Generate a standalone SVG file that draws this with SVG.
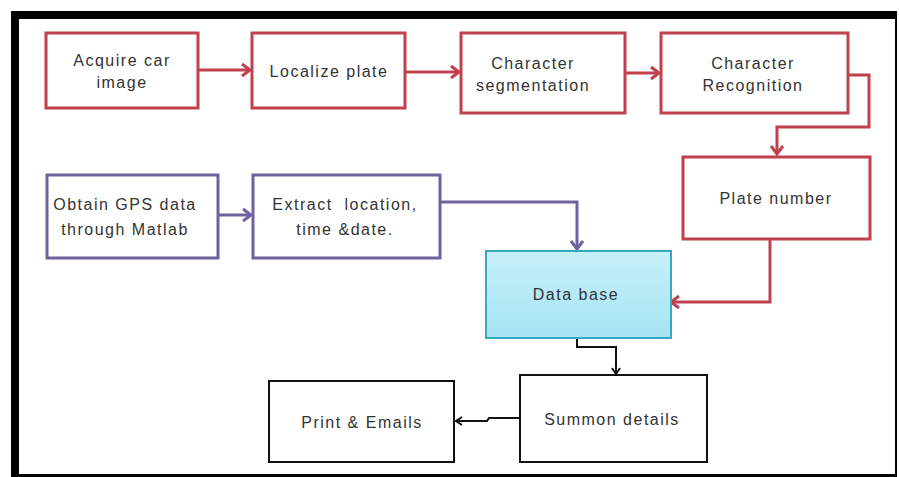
<svg xmlns="http://www.w3.org/2000/svg" width="899" height="477" viewBox="0 0 899 477">
<style>
text{font-family:"Liberation Sans","DejaVu Sans",sans-serif;font-size:16px;letter-spacing:1.5px;fill:#333;text-anchor:middle;white-space:pre}
.red{fill:#fff;stroke:#c0404d;stroke-width:3}
.pur{fill:#fff;stroke:#6e619e;stroke-width:3}
.blk{fill:#fff;stroke:#111;stroke-width:2}
.cr{fill:none;stroke:#c0404d;stroke-width:3}
.cp{fill:none;stroke:#6e619e;stroke-width:3}
.cb{fill:none;stroke:#111;stroke-width:2}
</style>
<defs>
<marker id="ar" markerUnits="userSpaceOnUse" markerWidth="16" markerHeight="16" refX="11" refY="8" orient="auto">
<path d="M3,2 L11,8 L3,14" fill="none" stroke="#c0404d" stroke-width="3"/>
</marker>
<marker id="ap" markerUnits="userSpaceOnUse" markerWidth="16" markerHeight="16" refX="11" refY="8" orient="auto">
<path d="M3,2 L11,8 L3,14" fill="none" stroke="#6e619e" stroke-width="3"/>
</marker>
<marker id="ab" markerUnits="userSpaceOnUse" markerWidth="12" markerHeight="12" refX="9" refY="6" orient="auto">
<path d="M3,2 L9,6 L3,10" fill="none" stroke="#111" stroke-width="2"/>
</marker>
<linearGradient id="db" x1="0" y1="0" x2="0" y2="1">
<stop offset="0" stop-color="#c6f0fa"/>
<stop offset="1" stop-color="#a6e4f4"/>
</linearGradient>
</defs>
<rect x="11" y="11" width="886" height="466" fill="#000"/>
<rect x="19" y="19" width="876" height="455" fill="#fff"/>
<g id="connectors">
<path class="cr" d="M198,70 L250,70" marker-end="url(#ar)"/>
<path class="cr" d="M405,72 L459,72" marker-end="url(#ar)"/>
<path class="cr" d="M625,73 L659,73" marker-end="url(#ar)"/>
<path class="cr" d="M848,75 L869,75 L869,127 L777,127 L777,154" marker-end="url(#ar)"/>
<path class="cr" d="M770,240 L770,302 L671,302" marker-end="url(#ar)"/>
<path class="cp" d="M218,215 L251,215" marker-end="url(#ap)"/>
<path class="cp" d="M440,202 L577,202 L577,249" marker-end="url(#ap)"/>
<path class="cb" d="M577,338 L577,347 L616,347 L616,374" marker-end="url(#ab)"/>
<path class="cb" d="M520,418 L489,418 L487,421 L456,421" marker-end="url(#ab)"/>
</g>
<g id="acquire"><rect class="red" x="46" y="33" width="152" height="75"/><text x="122" y="66">Acquire car</text><text x="122" y="88">image</text></g>
<g id="localize"><rect class="red" x="252" y="33" width="153" height="75"/><text x="329" y="77">Localize plate</text></g>
<g id="segmentation"><rect class="red" x="461" y="33" width="164" height="80"/><text x="533" y="69">Character</text><text x="533" y="91">segmentation</text></g>
<g id="recognition"><rect class="red" x="661" y="33" width="187" height="80"/><text x="753" y="69">Character</text><text x="753" y="91">Recognition</text></g>
<g id="platenumber"><rect class="red" x="683" y="157" width="187" height="82"/><text x="776" y="204">Plate number</text></g>
<g id="gps"><rect class="pur" x="47" y="175" width="171" height="83"/><text x="125" y="210">Obtain GPS data</text><text x="125" y="235">through Matlab</text></g>
<g id="extract"><rect class="pur" x="253" y="175" width="187" height="83"/><text x="345" y="210">Extract  location,</text><text x="345" y="235">time &amp;date.</text></g>
<g id="database"><rect x="486" y="251" width="185" height="87" fill="url(#db)" stroke="#3aa7c0" stroke-width="2"/><text x="576" y="300">Data base</text></g>
<g id="summon"><rect class="blk" x="520" y="375" width="187" height="87"/><text x="612" y="425">Summon details</text></g>
<g id="print"><rect class="blk" x="269" y="381" width="185" height="81"/><text x="362" y="428">Print &amp; Emails</text></g>
</svg>
